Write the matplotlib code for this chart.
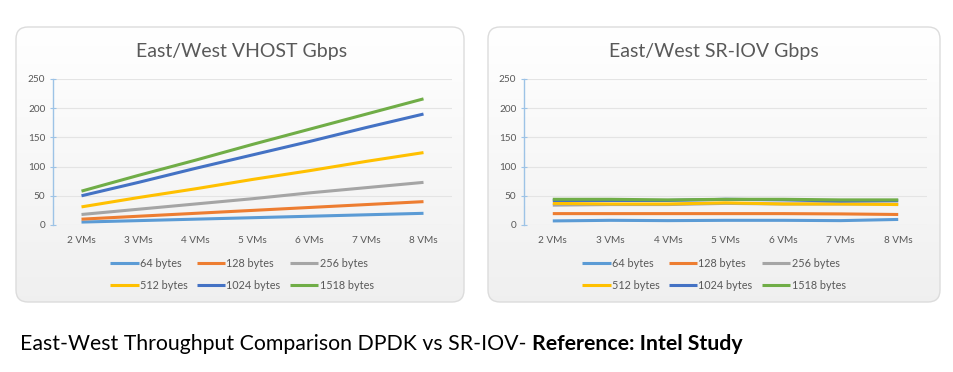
import numpy as np
import matplotlib
matplotlib.use("Agg")
import matplotlib.pyplot as plt
from matplotlib.patches import FancyBboxPatch

plt.rcParams['font.family'] = ['Lato', 'DejaVu Sans']

vms = ["2 VMs", "3 VMs", "4 VMs", "5 VMs", "6 VMs", "7 VMs", "8 VMs"]
sizes = ["64 bytes", "128 bytes", "256 bytes", "512 bytes", "1024 bytes", "1518 bytes"]
colors = ["#5B9BD5", "#ED7D31", "#A5A5A5", "#FFC000", "#4472C4", "#70AD47"]

vhost_64 = [5, 7.5, 10, 12.5, 15, 17.5, 20]
vhost_128 = [10, 15, 20, 25, 30, 35, 40]
vhost_256 = [18, 27, 36, 45, 55, 64, 73]
vhost_512 = [31, 47, 62, 78, 93, 109, 124]
vhost_1024 = [50, 73, 97, 120, 143, 167, 190]
vhost_1518 = [58, 85, 111, 138, 164, 190, 216]

sriov_64 = [7, 8, 7.5, 8, 8, 7.5, 9.5]
sriov_128 = [19.5, 19.5, 19.5, 19.5, 19.5, 19, 18]
sriov_256 = [34, 35, 35, 37, 36, 36, 36]
sriov_512 = [37, 36, 36, 38, 36, 36, 35]
sriov_1024 = [42, 42, 42, 44, 43, 41, 42]
sriov_1518 = [44, 44, 43, 44, 44, 43, 43]

vhost = [vhost_64, vhost_128, vhost_256, vhost_512, vhost_1024, vhost_1518]
sriov = [sriov_64, sriov_128, sriov_256, sriov_512, sriov_1024, sriov_1518]

W, H = 954, 372
fig = plt.figure(figsize=(W / 100, H / 100), dpi=100)
fig.patch.set_facecolor("white")


def px(x0, y0, x1, y1):
    # pixel box (top-left origin) -> figure fraction rect
    return [x0 / W, 1 - y1 / H, (x1 - x0) / W, (y1 - y0) / H]


def card(x0, y0, x1, y1):
    bg = fig.add_axes([0, 0, 1, 1], zorder=-5)
    bg.set_xlim(0, W)
    bg.set_ylim(H, 0)
    bg.axis("off")
    patch = FancyBboxPatch((x0, y0), x1 - x0, y1 - y0,
                           boxstyle="round,pad=0,rounding_size=12",
                           facecolor="none", edgecolor="#dcdcdc", lw=1.0)
    grad = np.linspace(1.0, 0.94, 100).reshape(-1, 1)
    im = bg.imshow(np.dstack([grad, grad, grad]), extent=(x0, x1, y1, y0),
                   aspect="auto", zorder=0)
    bg.add_patch(patch)
    im.set_clip_path(patch)


def panel(rect, series, title, cx):
    ax = fig.add_axes(rect)
    x = np.arange(len(vms))
    lines = []
    for vals, c, lab in zip(series, colors, sizes):
        ln, = ax.plot(x, vals, color=c, lw=2.2, label=lab, solid_capstyle="butt")
        lines.append(ln)
    ax.set_xlim(-0.5, len(vms) - 0.5)
    ax.set_ylim(0, 250)
    ax.set_yticks([0, 50, 100, 150, 200, 250])
    ax.set_xticks(x)
    ax.set_xticklabels(vms)
    ax.patch.set_alpha(0)
    for s in ["top", "right", "bottom"]:
        ax.spines[s].set_visible(False)
    ax.spines["left"].set_color("#9DC3E6")
    ax.spines["left"].set_linewidth(1.0)
    ax.grid(axis="y", color="#e4e4e4", lw=0.8)
    ax.set_axisbelow(True)
    ax.tick_params(axis="y", direction="inout", length=5, color="#9DC3E6",
                   labelsize=7.2, labelcolor="#595959", pad=3)
    ax.tick_params(axis="x", length=0, labelsize=7.2, labelcolor="#595959", pad=8)
    fig.text(cx / W, 1 - 51 / H, title, ha="center", va="center",
             fontsize=14, color="#595959")
    # row-major order for a 3-column legend
    order = [0, 3, 1, 4, 2, 5]
    fig.legend(handles=[lines[i] for i in order], loc="center", ncol=3,
               bbox_to_anchor=(cx / W, 1 - 274.5 / H), frameon=False,
               fontsize=7.8, labelcolor="#595959", handlelength=2.6,
               handletextpad=0.1, columnspacing=0.9, labelspacing=1.0)
    return ax


card(16, 27, 464, 302)
card(488, 27, 940, 302)

panel(px(53, 79, 452, 225), vhost, "East/West VHOST Gbps", 242)
panel(px(524, 79, 927, 225), sriov, "East/West SR-IOV Gbps", 714)

t = fig.text(20 / W, 1 - 344 / H, "East-West Throughput Comparison DPDK vs SR-IOV- ",
             ha="left", va="center", fontsize=15.3, color="black")
fig.canvas.draw()
bb = t.get_window_extent()
fig.text(bb.x1 / W, 1 - 344 / H, "Reference: Intel Study", ha="left", va="center",
         fontsize=15.3, color="black", fontweight="bold")

fig.savefig("out.png", dpi=100)
